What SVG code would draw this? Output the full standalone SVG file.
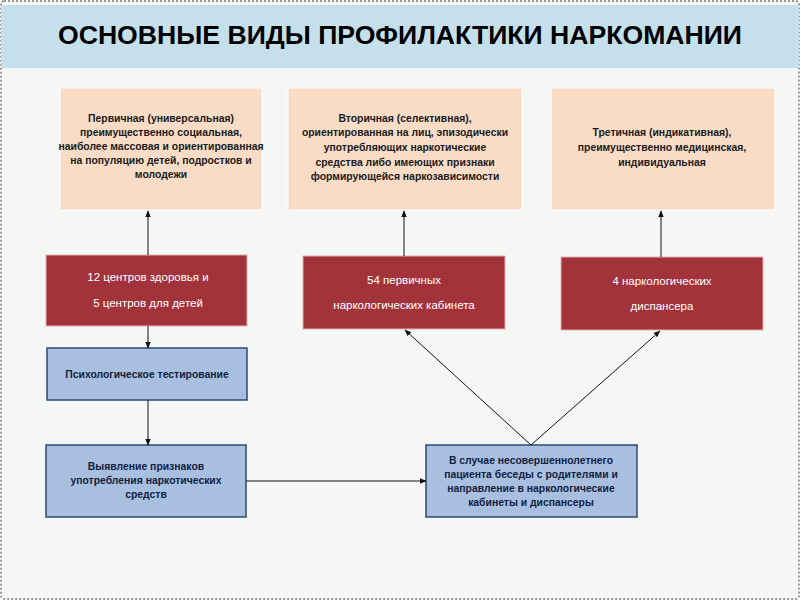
<svg xmlns="http://www.w3.org/2000/svg" width="800" height="600" viewBox="0 0 800 600">
<defs>
<marker id="ah" viewBox="0 0 10 10" refX="9" refY="5" markerWidth="7" markerHeight="7" orient="auto" markerUnits="userSpaceOnUse">
<path d="M0,1 L10,5 L0,9 Z" fill="#111"/>
</marker>
<style>
.bg{fill:#f5f7f5;stroke:#777;stroke-width:1.5;stroke-dasharray:2 2}
.title{font-family:"Liberation Sans","DejaVu Sans",sans-serif;font-weight:bold;font-size:25px;fill:#000}
.peach{fill:#f8dcc6;stroke:#ffffff;stroke-width:1}
.red{fill:#a3333a;stroke:#e9b0b0;stroke-width:1}
.blue{fill:#a9bfe0;stroke:#2f4a70;stroke-width:1.5}
.t{font-family:"Liberation Sans","DejaVu Sans",sans-serif;font-size:10.4px;font-weight:bold;fill:#1a1a1a;text-anchor:middle}
.w{font-family:"Liberation Sans","DejaVu Sans",sans-serif;font-size:11.5px;fill:#fff;text-anchor:middle}
.bt{font-family:"Liberation Sans","DejaVu Sans",sans-serif;font-size:10.4px;font-weight:bold;fill:#10213f;text-anchor:middle}
.c{stroke:#111;stroke-width:1;fill:none;marker-end:url(#ah)}
.l{stroke:#111;stroke-width:1;fill:none}
</style>
</defs>
<rect class="bg" x="1" y="1" width="798" height="598" rx="3"/>
<rect x="1" y="5" width="798" height="63" fill="#c6e0eb"/>
<text class="title" x="400" y="44" text-anchor="middle" textLength="684" lengthAdjust="spacingAndGlyphs">ОСНОВНЫЕ ВИДЫ ПРОФИЛАКТИКИ НАРКОМАНИИ</text>

<g id="primary">
<rect class="peach" x="60" y="88" width="202" height="122"/>
<text class="t" x="161" y="122">Первичная (универсальная)</text>
<text class="t" x="161" y="136">преимущественно социальная,</text>
<text class="t" x="161" y="150">наиболее массовая и ориентированная</text>
<text class="t" x="161" y="164">на популяцию детей, подростков и</text>
<text class="t" x="161" y="178">молодежи</text>
</g>
<g id="secondary">
<rect class="peach" x="288" y="88" width="234" height="122"/>
<text class="t" x="405" y="122">Вторичная (селективная),</text>
<text class="t" x="405" y="136">ориентированная на лиц, эпизодически</text>
<text class="t" x="405" y="151">употребляющих наркотические</text>
<text class="t" x="405" y="166">средства либо имеющих признаки</text>
<text class="t" x="405" y="180">формирующейся наркозависимости</text>
</g>
<g id="tertiary">
<rect class="peach" x="551" y="88" width="224" height="122"/>
<text class="t" x="662" y="136">Третичная (индикативная),</text>
<text class="t" x="662" y="151">преимущественно медицинская,</text>
<text class="t" x="662" y="166">индивидуальная</text>
</g>

<g id="centers">
<rect class="red" x="46" y="255" width="201" height="71"/>
<text class="w" x="148" y="281">12 центров здоровья  и</text>
<text class="w" x="148" y="307">5  центров для детей</text>
</g>
<g id="cabinets">
<rect class="red" x="303" y="256" width="202" height="73"/>
<text class="w" x="404" y="284">54  первичных</text>
<text class="w" x="404" y="309">наркологических    кабинета</text>
</g>
<g id="dispensaries">
<rect class="red" x="561" y="257" width="202" height="73"/>
<text class="w" x="662" y="285">4  наркологических</text>
<text class="w" x="662" y="310">диспансера</text>
</g>

<g id="testing">
<rect class="blue" x="47" y="348" width="200" height="52"/>
<text class="bt" x="147" y="378">Психологическое тестирование</text>
</g>
<g id="detection">
<rect class="blue" x="46" y="445" width="200" height="72"/>
<text class="bt" x="146" y="470">Выявление признаков</text>
<text class="bt" x="146" y="484">употребления наркотических</text>
<text class="bt" x="146" y="498">средств</text>
</g>
<g id="minors">
<rect class="blue" x="426" y="445" width="211" height="72"/>
<text class="bt" x="531" y="464">В случае несовершеннолетнего</text>
<text class="bt" x="531" y="478">пациента беседы с родителями и</text>
<text class="bt" x="531" y="492">направление в наркологические</text>
<text class="bt" x="531" y="506">кабинеты и диспансеры</text>
</g>

<g id="connectors">
<line class="c" x1="148" y1="255" x2="148" y2="211"/>
<line class="c" x1="404" y1="256" x2="404" y2="211"/>
<line class="c" x1="661" y1="257" x2="661" y2="211"/>
<line class="c" x1="148" y1="326" x2="148" y2="348"/>
<line class="c" x1="148" y1="400" x2="148" y2="445"/>
<line class="c" x1="246" y1="481" x2="426" y2="481"/>
<line class="c" x1="531" y1="445" x2="405" y2="330"/>
<line class="c" x1="531" y1="445" x2="660" y2="331"/>
</g>
</svg>
